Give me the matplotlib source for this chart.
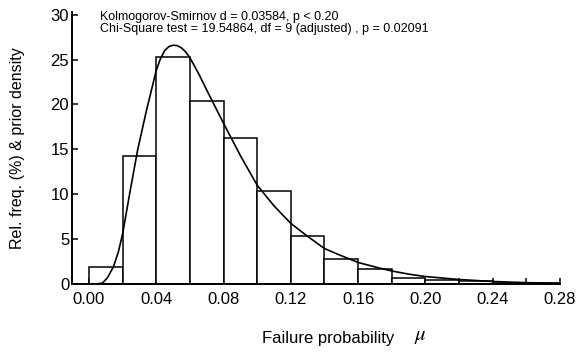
import matplotlib
matplotlib.use('Agg')
import matplotlib.pyplot as plt
import numpy as np

# histogram of relative frequencies (%), bins of width 0.02
bin_edges = [0.00, 0.02, 0.04, 0.06, 0.08, 0.10, 0.12, 0.14,
             0.16, 0.18, 0.20, 0.22, 0.24, 0.26, 0.28]
rel_freq = [1.93, 14.25, 25.3, 20.4, 16.3, 10.4, 5.35,
            2.8, 1.67, 0.67, 0.48, 0.3, 0.15, 0.08]

# prior density
curve_x = [0.004, 0.008, 0.011, 0.0145, 0.0175, 0.020, 0.0245, 0.029, 0.034,
           0.040, 0.0425, 0.045, 0.0475, 0.050, 0.0525, 0.055, 0.0575, 0.060,
           0.065, 0.070, 0.080, 0.090,
           0.100, 0.110, 0.120, 0.130, 0.140, 0.150, 0.160, 0.170, 0.180,
           0.190, 0.200, 0.220, 0.240, 0.260, 0.280]
curve_y = [0.0, 0.1, 0.7, 1.9, 3.6, 5.6, 10.4, 15.0, 19.2,
           23.8, 25.1, 26.0, 26.45, 26.6, 26.55, 26.3, 25.85, 25.2,
           23.5, 21.6, 17.9, 14.3,
           11.0, 8.7, 6.75, 5.3, 3.95, 3.15, 2.4, 1.9, 1.45,
           1.1, 0.83, 0.5, 0.28, 0.15, 0.08]

x_ticks = [0.00, 0.04, 0.08, 0.12, 0.16, 0.20, 0.24, 0.28]
y_ticks = [0, 5, 10, 15, 20, 25, 30]

stats_text = ("Kolmogorov-Smirnov d = 0.03584, p < 0.20\n"
              "Chi-Square test = 19.54864, df = 9 (adjusted) , p = 0.02091")

plt.rcParams['font.family'] = ['Liberation Sans', 'DejaVu Sans']
plt.rcParams['mathtext.fontset'] = 'stix'

W, H = 577, 356
fig = plt.figure(figsize=(W / 100, H / 100), dpi=100)
ax = fig.add_axes([72 / W, 1 - 284 / H, 488 / W, 272 / H])

widths = np.diff(bin_edges)
ax.bar(bin_edges[:-1], rel_freq, width=widths, align='edge',
       facecolor='white', edgecolor='black', linewidth=1.1, zorder=2)
ax.plot(curve_x, curve_y, color='black', linewidth=1.2, zorder=3)

ax.set_xlim(-0.0101, 0.28)
ax.set_ylim(0, 30.3)
ax.set_xticks(x_ticks)
ax.set_xticklabels([f'{t:.2f}' for t in x_ticks])
ax.set_xticks(np.array(bin_edges), minor=True)
ax.set_yticks(y_ticks)

for s in ['top', 'right']:
    ax.spines[s].set_visible(False)
for s in ['left', 'bottom']:
    ax.spines[s].set_linewidth(1.4)

ax.tick_params(axis='both', which='both', direction='in', length=4,
               width=1.1, labelsize=12)
ax.tick_params(axis='x', which='major', pad=6)
ax.tick_params(axis='y', pad=2)

fig.text(18 / W, 1 - 148 / H, 'Rel. freq. (%) & prior density', fontsize=11.5,
         rotation=90, ha='center', va='center')
fig.text(262 / W, 1 - 338 / H, 'Failure probability', fontsize=12,
         ha='left', va='center')
fig.text(420 / W, 1 - 336 / H, r'$\mu$', fontsize=15,
         ha='center', va='center')

fig.text(100 / W, 1 - 11 / H, stats_text, fontsize=9,
         va='top', ha='left', linespacing=1.0)

fig.savefig('out.png', dpi=100)
